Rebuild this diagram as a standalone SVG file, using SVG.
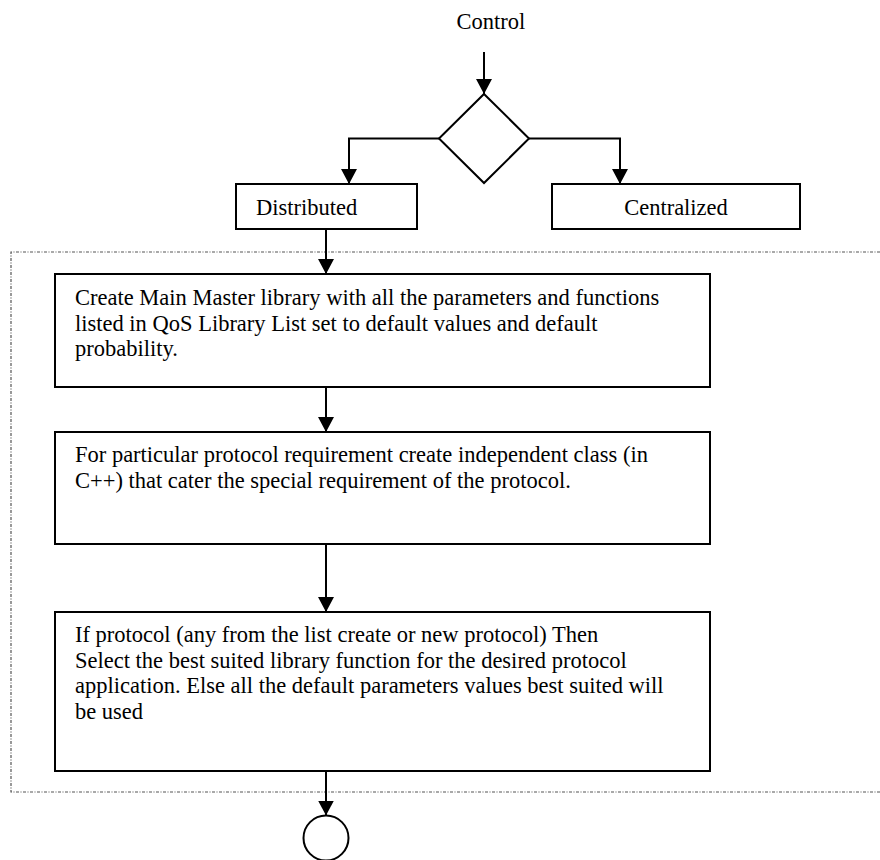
<svg xmlns="http://www.w3.org/2000/svg" width="880" height="860" viewBox="0 0 880 860">
<style>
  .box { fill: #fff; stroke: #000; stroke-width: 2; }
  .ln { fill: none; stroke: #000; stroke-width: 2; }
  .t { font-family: "Liberation Serif", "Times New Roman", serif; font-size: 22.5px; fill: #000; }
  .frame { fill: none; stroke: #555; stroke-width: 1.2; stroke-dasharray: 3 1.5 1 1.5; }
</style>
<defs>
  <marker id="arr" viewBox="0 0 16 16" markerWidth="16" markerHeight="16" refX="15" refY="8" orient="auto" markerUnits="userSpaceOnUse">
    <path d="M0,0 L15,8 L0,16 Z" fill="#000"/>
  </marker>
</defs>
<rect width="880" height="860" fill="#fff"/>

<g id="frame">
  <path class="frame" d="M880,252 H11 V792 H880"/>
</g>

<g id="control-label">
  <text class="t" x="491" y="29" text-anchor="middle">Control</text>
</g>

<g id="decision">
  <path class="box" d="M484,94 L529,138.5 L484,183 L439,138.5 Z"/>
</g>

<g id="distributed">
  <rect class="box" x="236" y="184" width="181" height="45"/>
  <text class="t" x="256" y="215">Distributed</text>
</g>

<g id="centralized">
  <rect class="box" x="552" y="184" width="248" height="45"/>
  <text class="t" x="676" y="215" text-anchor="middle">Centralized</text>
</g>

<g id="step1">
  <rect class="box" x="55" y="274" width="655" height="113"/>
  <text class="t" x="75" y="305">Create Main Master library with all the parameters and functions</text>
  <text class="t" x="75" y="330.5">listed in QoS Library List set to default values and default</text>
  <text class="t" x="75" y="356">probability.</text>
</g>

<g id="step2">
  <rect class="box" x="55" y="432" width="655" height="112"/>
  <text class="t" x="75" y="462">For particular protocol requirement create independent class (in</text>
  <text class="t" x="75" y="488">C++) that cater the special requirement of the protocol.</text>
</g>

<g id="step3">
  <rect class="box" x="55" y="612" width="655" height="159"/>
  <text class="t" x="75" y="642">If protocol (any from the list create or new protocol) Then</text>
  <text class="t" x="75" y="667.5">Select the best suited library function for the desired protocol</text>
  <text class="t" x="75" y="693">application. Else all the default parameters values best suited will</text>
  <text class="t" x="75" y="719">be used</text>
</g>

<g id="end">
  <circle class="box" cx="326" cy="838" r="22.5"/>
</g>

<g id="connectors">
  <path class="ln" d="M484,52 V94" marker-end="url(#arr)"/>
  <path class="ln" d="M439,138.5 H349 V184" marker-end="url(#arr)"/>
  <path class="ln" d="M529,138.5 H620 V184" marker-end="url(#arr)"/>
  <path class="ln" d="M326,229 V274" marker-end="url(#arr)"/>
  <path class="ln" d="M326,387 V432" marker-end="url(#arr)"/>
  <path class="ln" d="M326,544 V612" marker-end="url(#arr)"/>
  <path class="ln" d="M326,771 V815.5" marker-end="url(#arr)"/>
</g>
</svg>
